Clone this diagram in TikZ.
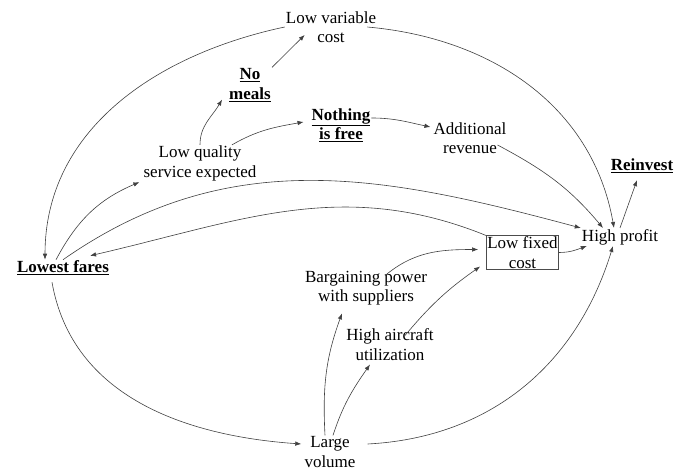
\documentclass[tikz,border=0pt]{standalone}
\usepackage{fontspec}
\setmainfont{Liberation Serif}
\usepackage{tikz}
\usetikzlibrary{arrows.meta,positioning}

\begin{document}
\begin{tikzpicture}[
    x=1pt, y=1pt,
    font=\fontsize{17}{19.5}\selectfont,
    idea/.style={inner sep=1pt, align=center},
    key/.style={inner sep=1pt, align=center, font=\fontsize{17}{19.5}\selectfont\bfseries},
    cost/.style={draw=black!70, inner sep=1pt, align=center},
    arr/.style={-{Latex[length=6pt,width=4.5pt]}, draw=black!75, line width=0.6pt},
  ]
    \useasboundingbox (0,0) rectangle (686,472);

    \node[idea] (lvc) at (331,445) {Low variable\\cost};
    \node[key] (nomeals) at (250,387) {\underline{No}\\\underline{meals}};
    \node[key] (nothing) at (341,347) {\underline{Nothing}\\\underline{is free}};
    \node[idea] (addrev) at (470,334) {Additional\\revenue};
    \node[idea] (lowqual) at (200,308.5) {Low quality\\service expected};
    \node[key] (reinvest) at (642,306) {\underline{Reinvest}};
    \node[idea] (profit) at (620,235) {High profit};
    \node[cost] (fixed) at (522.5,219.5) {Low fixed\\cost};
    \node[key] (fares) at (63,204) {\underline{Lowest fares}};
    \node[idea] (bargain) at (366,184) {Bargaining power\\with suppliers};
    \node[idea] (util) at (390,127.5) {High aircraft\\utilization};
    \node[idea] (volume) at (330,20) {Large\\volume};

    % upper loop: service level and variable cost
    \draw[arr] (lvc.west) to[out=192,in=90] ([xshift=-18pt]fares.north);
    \draw[arr] ([xshift=-10pt]lvc.east) to[out=-5,in=100] ([xshift=-6pt]profit.north);
    \draw[arr] (nomeals.north east) -- ([xshift=20pt,yshift=9pt]lvc.south west);
    \draw[arr] (lowqual.north) to[out=90,in=240] ([xshift=-6pt,yshift=3pt]nomeals.south west);
    \draw[arr] ([xshift=32pt]lowqual.north) to[out=30,in=190] ([xshift=-7pt,yshift=3pt]nothing.west);
    \draw[arr] ([yshift=7pt]nothing.east) to[out=0,in=168] ([xshift=-2pt,yshift=11pt]addrev.west);
    \draw[arr] ([xshift=-10pt,yshift=-7pt]addrev.east) to[out=-28,in=130] ([xshift=-17pt]profit.north);
    \draw[arr] ([xshift=-7pt]fares.north) to[out=62,in=203] ([xshift=-3pt]lowqual.south west);
    \draw[arr] (fares.north) to[out=35,in=165] (profit.north west);

    % fixed cost loop
    \draw[arr] (fixed.north west) to[out=158,in=13] ([xshift=-20pt,yshift=4pt]fares.north east);
    \draw[arr] (fixed.east) to[out=0,in=200] ([xshift=6pt]profit.south west);
    \draw[arr] ([xshift=-11pt,yshift=-6pt]fares.south) to[out=-80,in=176] ([xshift=-2pt,yshift=8pt]volume.west);
    \draw[arr] ([xshift=-5pt]volume.north) to[out=93,in=250] ([xshift=-24pt,yshift=-7pt]bargain.south);
    \draw[arr] ([xshift=3pt]volume.north) to[out=72,in=235] ([xshift=-20pt,yshift=-3pt]util.south);
    \draw[arr] ([xshift=19pt,yshift=-6pt]bargain.north) to[out=40,in=180] ([xshift=-8pt,yshift=3pt]fixed.west);
    \draw[arr] ([xshift=15pt,yshift=-8pt]util.north) to[out=50,in=215] ([xshift=-6pt,yshift=3pt]fixed.south west);
    \draw[arr] ([xshift=11pt,yshift=8pt]volume.east) to[out=3,in=253] ([xshift=-7pt]profit.south);
    \draw[arr] (profit.north) -- ([xshift=-5pt,yshift=-6pt]reinvest.south);
  \end{tikzpicture}
\end{document}
